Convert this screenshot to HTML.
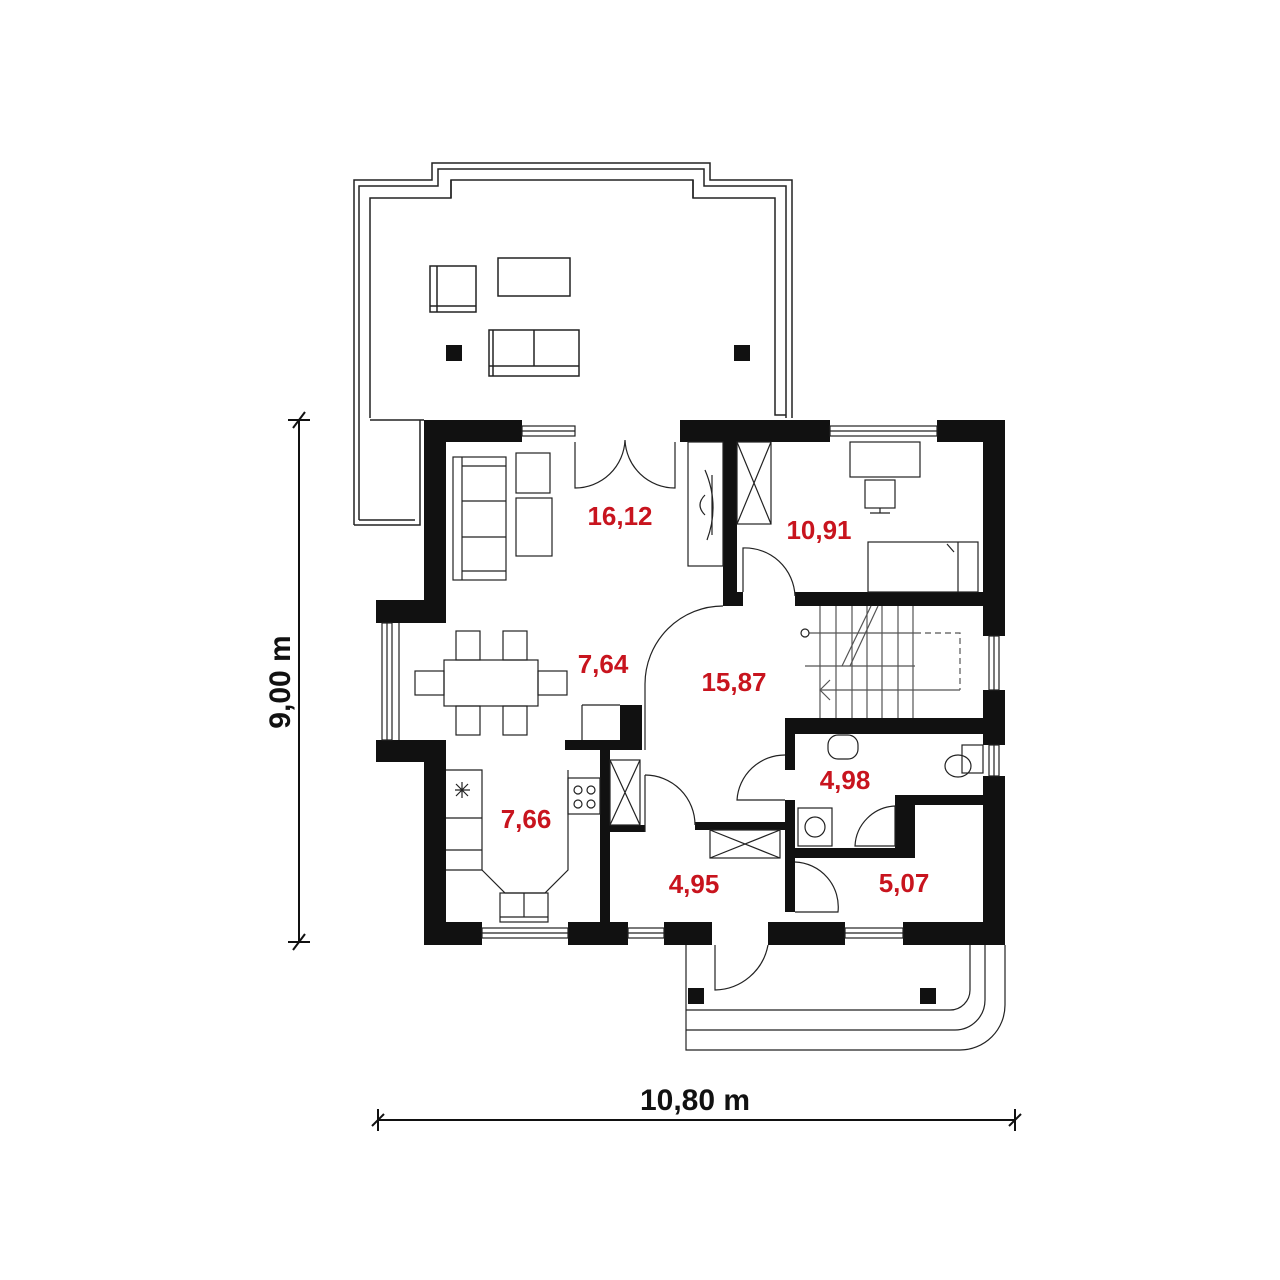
<!DOCTYPE html>
<html><head><meta charset="utf-8"><style>
html,body{margin:0;padding:0;background:#fff;}
svg{display:block}
.r{font-family:"Liberation Sans",sans-serif;font-weight:bold;font-size:26px;fill:#c8141e;text-anchor:middle;}
</style></head><body>
<svg width="1280" height="1280" viewBox="0 0 1280 1280" xmlns="http://www.w3.org/2000/svg">
<rect width="1280" height="1280" fill="#fff"/>
<g fill="none" stroke="#222" stroke-width="1.5">
<path d="M354 525 V180 H432 V163 H710 V180 H792 V418"/>
<path d="M359 520 V186 H438 V169 H704 V186 H786 V418"/>
<path d="M370 418 V198 H451 V180 H693 V198 H775 V415 H786"/>
<line x1="451" y1="180" x2="451" y2="198"/><line x1="693" y1="180" x2="693" y2="198"/>
<path d="M354 525 H420 V420 M359 520 H415 M370 420 H424"/>
<rect x="430" y="266" width="46" height="46"/><line x1="437" y1="266" x2="437" y2="312"/><line x1="430" y1="306" x2="476" y2="306"/>
<rect x="498" y="258" width="72" height="38"/>
<rect x="489" y="330" width="90" height="46"/><line x1="534" y1="330" x2="534" y2="366"/><line x1="489" y1="366" x2="579" y2="366"/><line x1="493" y1="330" x2="493" y2="376"/>
</g>
<rect x="446" y="345" width="16" height="16" fill="#111"/>
<rect x="734" y="345" width="16" height="16" fill="#111"/>
<g fill="#111">
<rect x="424" y="420" width="98" height="22"/>
<rect x="424" y="420" width="22" height="203"/>
<rect x="376" y="600" width="70" height="23"/>
<rect x="376" y="740" width="70" height="22"/>
<rect x="424" y="740" width="22" height="205"/>
<rect x="424" y="922" width="58" height="23"/>
<rect x="568" y="922" width="60" height="23"/>
<rect x="664" y="922" width="48" height="23"/>
<rect x="768" y="922" width="77" height="23"/>
<rect x="903" y="922" width="102" height="23"/>
<rect x="680" y="420" width="150" height="22"/>
<rect x="937" y="420" width="68" height="22"/>
<rect x="983" y="420" width="22" height="216"/>
<rect x="983" y="690" width="22" height="55"/>
<rect x="983" y="776" width="22" height="169"/>
<rect x="723" y="420" width="14" height="185"/>
<rect x="723" y="592" width="20" height="14"/>
<rect x="795" y="592" width="210" height="14"/>
<rect x="785" y="718" width="220" height="16"/>
<rect x="785" y="718" width="10" height="52"/>
<rect x="785" y="800" width="10" height="112"/>
<rect x="620" y="705" width="22" height="45"/>
<rect x="565" y="740" width="77" height="10"/>
<rect x="600" y="750" width="10" height="172"/>
<rect x="610" y="825" width="35" height="7"/>
<rect x="695" y="822" width="90" height="8"/>
<rect x="795" y="848" width="120" height="10"/>
<rect x="895" y="795" width="20" height="63"/>
<rect x="895" y="795" width="88" height="10"/>
</g>
<g fill="none" stroke="#222" stroke-width="1.2">
<rect x="522" y="426" width="53" height="10"/><line x1="522" y1="431" x2="575" y2="431"/>
<rect x="482" y="928" width="86" height="10"/><line x1="482" y1="933" x2="568" y2="933"/>
<rect x="628" y="928" width="36" height="10"/><line x1="628" y1="933" x2="664" y2="933"/>
<rect x="845" y="928" width="58" height="10"/><line x1="845" y1="933" x2="903" y2="933"/>
<rect x="830" y="426" width="107" height="10"/><line x1="830" y1="431" x2="937" y2="431"/>
<rect x="382" y="623" width="10" height="117"/><line x1="387" y1="623" x2="387" y2="740"/><line x1="399" y1="623" x2="399" y2="740"/>
<rect x="989" y="636" width="10" height="54"/><line x1="994" y1="636" x2="994" y2="690"/>
<rect x="989" y="745" width="10" height="31"/><line x1="994" y1="745" x2="994" y2="776"/>
<path d="M575 442 V488 A50 50 0 0 0 625 440 A50 50 0 0 0 675 488 V442"/>
<rect x="453" y="457" width="53" height="123"/><line x1="462" y1="457" x2="462" y2="580"/><line x1="462" y1="466" x2="506" y2="466"/><line x1="462" y1="501" x2="506" y2="501"/><line x1="462" y1="537" x2="506" y2="537"/><line x1="462" y1="571" x2="506" y2="571"/>
<rect x="516" y="453" width="34" height="40"/><rect x="516" y="498" width="36" height="58"/>
<rect x="688" y="442" width="35" height="124"/>
<path d="M705 470 Q720 505 707 540" /><line x1="712" y1="475" x2="712" y2="535"/><path d="M705 495 Q695 505 705 515"/>
<rect x="444" y="660" width="94" height="46"/>
<rect x="456" y="631" width="24" height="29"/><rect x="503" y="631" width="24" height="29"/>
<rect x="456" y="706" width="24" height="29"/><rect x="503" y="706" width="24" height="29"/>
<rect x="415" y="671" width="29" height="24"/><rect x="538" y="671" width="29" height="24"/>
<path d="M582 705 H620 M582 705 V740"/>
<path d="M723 606 A78 78 0 0 0 645 684 V750"/>
<rect x="737" y="442" width="34" height="82"/><path d="M737 442 L771 524 M771 442 L737 524"/>
<rect x="850" y="442" width="70" height="35"/><rect x="865" y="480" width="30" height="28"/><path d="M870 513 H890 M880 508 V513"/>
<rect x="868" y="542" width="110" height="50"/><line x1="958" y1="542" x2="958" y2="592"/><path d="M947 544 L954 552"/>
<path d="M743 592 V548 A50 50 0 0 1 795 596"/>
<g stroke="#555">
<line x1="805" y1="633" x2="915" y2="633"/>
<line x1="805" y1="666" x2="915" y2="666"/>
<line x1="820" y1="690" x2="960" y2="690"/>
<path d="M820 606 V718 M836 606 V718 M852 606 V718 M867 606 V718 M882 606 V718 M898 606 V718 M913 606 V718"/>
<path d="M871 606 L842 666 M878 606 L850 666"/>
<path d="M915 633 H960 V690" stroke-dasharray="6 4"/>
<path d="M830 680 L820 690 L830 700"/>
</g>
<circle cx="805" cy="633" r="4" fill="#fff"/>
<path d="M785 755 A48 48 0 0 0 737 800 H785"/>
<rect x="828" y="735" width="30" height="24" rx="10"/>
<rect x="962" y="745" width="21" height="28"/><ellipse cx="958" cy="766" rx="13" ry="11"/>
<rect x="798" y="808" width="34" height="38"/><circle cx="815" cy="827" r="10"/>
<path d="M855 846 A42 42 0 0 1 895 806 V846 Z"/>
<rect x="610" y="760" width="30" height="65"/><path d="M610 760 L640 825 M640 760 L610 825"/>
<rect x="710" y="830" width="70" height="28"/><path d="M710 830 L780 858 M780 830 L710 858"/>
<path d="M446 770 H482 V870 H446"/>
<line x1="446" y1="818" x2="482" y2="818"/><line x1="446" y1="850" x2="482" y2="850"/>
<path d="M482 870 L505 893 H545 L568 870 V770"/>
<path d="M455 790 L470 790 M462 782 V798 M456 784 L468 796 M468 784 L456 796"/>
<rect x="568" y="778" width="32" height="36"/><circle cx="578" cy="790" r="4"/><circle cx="591" cy="790" r="4"/><circle cx="578" cy="804" r="4"/><circle cx="591" cy="804" r="4"/>
<rect x="500" y="893" width="48" height="29"/><line x1="524" y1="893" x2="524" y2="917"/><line x1="500" y1="917" x2="548" y2="917"/>
<path d="M645 775 A50 50 0 0 1 695 825"/>
<line x1="645" y1="775" x2="645" y2="832"/>
<path d="M795 862 A45 45 0 0 1 838 912 H795"/>
<path d="M715 945 V990 A55 55 0 0 0 768 945"/>
<path d="M686 945 V1050 H960 A45 45 0 0 0 1005 1005 V945"/>
<path d="M686 1030 H955 A30 30 0 0 0 985 1000 V945"/>
<path d="M686 1010 H950 A20 20 0 0 0 970 990 V945"/>
</g>
<rect x="688" y="988" width="16" height="16" fill="#111"/>
<rect x="920" y="988" width="16" height="16" fill="#111"/>
<text class="r" x="620" y="525">16,12</text>
<text class="r" x="819" y="539">10,91</text>
<text class="r" x="603" y="673">7,64</text>
<text class="r" x="734" y="691">15,87</text>
<text class="r" x="845" y="789">4,98</text>
<text class="r" x="526" y="828">7,66</text>
<text class="r" x="694" y="893">4,95</text>
<text class="r" x="904" y="892">5,07</text>
<g stroke="#111" stroke-width="2">
<line x1="299" y1="420" x2="299" y2="942"/>
<line x1="288" y1="420" x2="310" y2="420"/><line x1="293" y1="428" x2="305" y2="412"/>
<line x1="288" y1="942" x2="310" y2="942"/><line x1="293" y1="950" x2="305" y2="934"/>
<line x1="378" y1="1120" x2="1015" y2="1120"/>
<line x1="378" y1="1109" x2="378" y2="1131"/><line x1="372" y1="1126" x2="384" y2="1114"/>
<line x1="1015" y1="1109" x2="1015" y2="1131"/><line x1="1009" y1="1126" x2="1021" y2="1114"/>
</g>
<text x="290" y="682" transform="rotate(-90 290 682)" text-anchor="middle" font-family="Liberation Sans, sans-serif" font-weight="bold" font-size="30" fill="#111">9,00 m</text>
<text x="695" y="1110" text-anchor="middle" font-family="Liberation Sans, sans-serif" font-weight="bold" font-size="30" fill="#111">10,80 m</text>
</svg>
</body></html>
